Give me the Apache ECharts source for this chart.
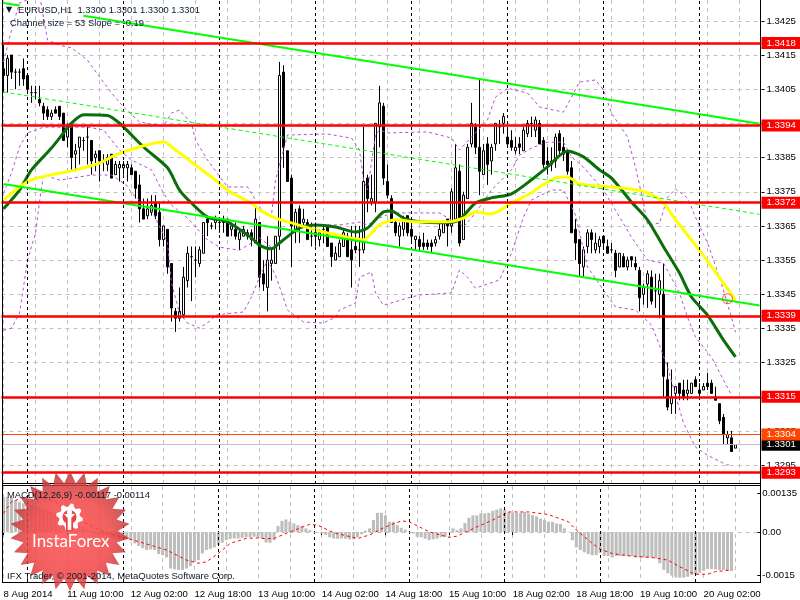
<!DOCTYPE html>
<html>
<head>
<meta charset="utf-8">
<style>html,body{margin:0;padding:0;background:#fff}#c{width:800px;height:600px}</style>
<script src="https://cdn.jsdelivr.net/npm/echarts@6/dist/echarts.min.js"></script>
</head>
<body>
<div id="c"></div>
<script>
// [open, close, low, high] per hourly bar
const candles = [
[1.3411,1.3409,1.3404,1.3418],[1.3409,1.3414,1.3404,1.3415],[1.3415,1.3410,1.3408,1.3415],[1.3410,1.3410,1.3405,1.3411],
[1.3410,1.3410,1.3406,1.3411],[1.3411,1.3408,1.3406,1.3414],[1.3409,1.3405,1.3404,1.3409],[1.3404,1.3404,1.3401,1.3406],
[1.3404,1.3404,1.3402,1.3406],[1.3402,1.3401,1.3400,1.3406],[1.3400,1.3398,1.3396,1.3401],[1.3399,1.3397,1.3396,1.3400],
[1.3397,1.3398,1.3396,1.3399],[1.3399,1.3398,1.3398,1.3400],[1.3400,1.3397,1.3396,1.3400],[1.3398,1.3390,1.3390,1.3398],
[1.3391,1.3394,1.3388,1.3395],[1.3395,1.3385,1.3381,1.3395],[1.3386,1.3387,1.3381,1.3389],[1.3388,1.3391,1.3383,1.3391],
[1.3390,1.3390,1.3387,1.3391],[1.3391,1.3391,1.3383,1.3394],[1.3390,1.3384,1.3380,1.3390],[1.3385,1.3386,1.3381,1.3387],
[1.3387,1.3384,1.3378,1.3387],[1.3384,1.3384,1.3381,1.3386],[1.3383,1.3385,1.3381,1.3386],[1.3386,1.3379,1.3379,1.3386],
[1.3380,1.3383,1.3380,1.3384],[1.3382,1.3383,1.3378,1.3384],[1.3382,1.3383,1.3380,1.3384],[1.3382,1.3383,1.3378,1.3384],
[1.3382,1.3380,1.3380,1.3383],[1.3381,1.3376,1.3373,1.3381],[1.3377,1.3370,1.3366,1.3380],[1.3370,1.3367,1.3367,1.3373],
[1.3368,1.3370,1.3367,1.3373],[1.3369,1.3371,1.3368,1.3374],[1.3372,1.3368,1.3367,1.3374],[1.3369,1.3361,1.3359,1.3372],
[1.3361,1.3365,1.3359,1.3365],[1.3364,1.3353,1.3351,1.3364],[1.3354,1.3341,1.3337,1.3354],[1.3340,1.3338,1.3334,1.3341],
[1.3338,1.3340,1.3337,1.3347],[1.3339,1.3350,1.3338,1.3353],[1.3349,1.3357,1.3347,1.3359],[1.3356,1.3356,1.3343,1.3359],
[1.3355,1.3355,1.3350,1.3359],[1.3354,1.3358,1.3353,1.3359],[1.3357,1.3366,1.3357,1.3366],[1.3367,1.3366,1.3362,1.3368],
[1.3365,1.3365,1.3364,1.3366],[1.3366,1.3367,1.3364,1.3368],[1.3366,1.3366,1.3363,1.3367],[1.3367,1.3366,1.3363,1.3368],
[1.3367,1.3362,1.3362,1.3367],[1.3364,1.3365,1.3362,1.3366],[1.3364,1.3362,1.3361,1.3366],[1.3361,1.3363,1.3358,1.3364],
[1.3362,1.3364,1.3362,1.3365],[1.3363,1.3362,1.3361,1.3364],[1.3363,1.3361,1.3359,1.3364],[1.3360,1.3367,1.3360,1.3371],
[1.3366,1.3350,1.3347,1.3366],[1.3351,1.3348,1.3346,1.3355],[1.3347,1.3355,1.3340,1.3362],[1.3354,1.3355,1.3349,1.3358],
[1.3354,1.3362,1.3354,1.3362],[1.3362,1.3409,1.3358,1.3413],[1.3410,1.3388,1.3382,1.3412],[1.3387,1.3378,1.3378,1.3387],
[1.3379,1.3365,1.3353,1.3380],[1.3364,1.3369,1.3360,1.3370],[1.3370,1.3365,1.3360,1.3371],[1.3366,1.3367,1.3365,1.3370],
[1.3366,1.3361,1.3361,1.3367],[1.3362,1.3362,1.3359,1.3366],[1.3363,1.3362,1.3359,1.3366],[1.3361,1.3363,1.3359,1.3364],
[1.3364,1.3364,1.3360,1.3365],[1.3365,1.3359,1.3359,1.3365],[1.3360,1.3356,1.3353,1.3360],[1.3355,1.3357,1.3355,1.3359],
[1.3356,1.3360,1.3356,1.3361],[1.3359,1.3363,1.3359,1.3364],[1.3362,1.3356,1.3356,1.3363],[1.3358,1.3355,1.3347,1.3365],
[1.3359,1.3358,1.3357,1.3365],[1.3358,1.3358,1.3353,1.3365],[1.3358,1.3378,1.3357,1.3394],[1.3379,1.3373,1.3369,1.3380],
[1.3372,1.3373,1.3371,1.3380],[1.3372,1.3395,1.3369,1.3395],[1.3394,1.3401,1.3388,1.3406],[1.3400,1.3379,1.3377,1.3401],
[1.3378,1.3374,1.3373,1.3383],[1.3373,1.3366,1.3366,1.3374],[1.3366,1.3363,1.3362,1.3367],[1.3362,1.3365,1.3359,1.3366],
[1.3364,1.3367,1.3362,1.3368],[1.3368,1.3363,1.3362,1.3368],[1.3364,1.3362,1.3360,1.3367],[1.3361,1.3362,1.3358,1.3362],
[1.3361,1.3359,1.3358,1.3362],[1.3360,1.3359,1.3358,1.3363],[1.3360,1.3359,1.3358,1.3361],[1.3360,1.3359,1.3357,1.3361],
[1.3360,1.3361,1.3359,1.3362],[1.3362,1.3364,1.3361,1.3366],[1.3363,1.3366,1.3363,1.3366],[1.3367,1.3365,1.3359,1.3367],
[1.3365,1.3375,1.3363,1.3376],[1.3367,1.3382,1.3366,1.3389],[1.3381,1.3360,1.3359,1.3383],[1.3361,1.3374,1.3361,1.3375],
[1.3373,1.3388,1.3373,1.3389],[1.3389,1.3395,1.3388,1.3401],[1.3394,1.3388,1.3386,1.3395],[1.3388,1.3381,1.3374,1.3408],
[1.3380,1.3387,1.3380,1.3389],[1.3389,1.3383,1.3377,1.3391],[1.3384,1.3388,1.3380,1.3389],[1.3389,1.3395,1.3387,1.3395],
[1.3394,1.3394,1.3389,1.3396],[1.3395,1.3397,1.3392,1.3398],[1.3391,1.3389,1.3388,1.3394],[1.3390,1.3388,1.3387,1.3393],
[1.3387,1.3388,1.3386,1.3391],[1.3389,1.3388,1.3386,1.3391],[1.3387,1.3393,1.3387,1.3394],[1.3392,1.3395,1.3391,1.3396],
[1.3395,1.3395,1.3391,1.3397],[1.3393,1.3396,1.3391,1.3397],[1.3395,1.3389,1.3389,1.3396],[1.3390,1.3383,1.3382,1.3391],
[1.3384,1.3383,1.3380,1.3388],[1.3383,1.3384,1.3381,1.3388],[1.3384,1.3391,1.3382,1.3392],[1.3392,1.3387,1.3386,1.3393],
[1.3388,1.3386,1.3384,1.3391],[1.3387,1.3381,1.3380,1.3387],[1.3382,1.3363,1.3363,1.3384],[1.3364,1.3360,1.3355,1.3367],
[1.3361,1.3354,1.3350,1.3361],[1.3353,1.3358,1.3350,1.3359],[1.3359,1.3363,1.3357,1.3364],[1.3363,1.3361,1.3357,1.3364],
[1.3358,1.3360,1.3357,1.3363],[1.3359,1.3361,1.3357,1.3362],[1.3362,1.3360,1.3358,1.3362],[1.3359,1.3357,1.3357,1.3361],
[1.3358,1.3358,1.3357,1.3360],[1.3357,1.3352,1.3350,1.3358],[1.3353,1.3357,1.3353,1.3357],[1.3356,1.3353,1.3353,1.3357],
[1.3353,1.3355,1.3352,1.3356],[1.3356,1.3355,1.3353,1.3356],[1.3354,1.3353,1.3352,1.3356],[1.3352,1.3344,1.3340,1.3353],
[1.3345,1.3347,1.3342,1.3348],[1.3348,1.3351,1.3341,1.3352],[1.3350,1.3343,1.3342,1.3352],[1.3346,1.3346,1.3341,1.3351],
[1.3345,1.3349,1.3338,1.3351],[1.3345,1.3321,1.3315,1.3354],[1.3320,1.3312,1.3311,1.3325],[1.3313,1.3315,1.3310,1.3323],
[1.3316,1.3318,1.3310,1.3318],[1.3319,1.3316,1.3314,1.3319],[1.3317,1.3315,1.3314,1.3320],[1.3316,1.3317,1.3314,1.3320],
[1.3316,1.3319,1.3316,1.3319],[1.3320,1.3318,1.3318,1.3321],[1.3317,1.3316,1.3315,1.3319],[1.3317,1.3318,1.3317,1.3319],
[1.3319,1.3318,1.3317,1.3322],[1.3319,1.3316,1.3316,1.3320],[1.3315,1.3314,1.3314,1.3318],[1.3313,1.3308,1.3307,1.3313],
[1.3309,1.3304,1.3301,1.3310],[1.3303,1.3304,1.3301,1.3305],[1.3303,1.3299,1.3299,1.3305],[1.3300,1.3301,1.3300,1.3301]
];
const macdHist = [
.00122,.00122,.0012,.0011,.00105,.001,.001,.00095,.0009,.00085,.0008,.00078,.0007,.00065,.0006,.0005,.00045,.00037,.0003,.00025,.00018,.0001,.00005,-.00005,-.00008,-.0001,-.00012,-.00017,-.0002,-.00023,-.00026,-.00025,-.00028,-.00039,-.00048,-.00056,-.00062,-.0006,-.00062,-.00076,-.0008,-.00088,-.00126,-.00129,-.00131,-.00131,-.00126,-.00118,-.00103,-.00097,-.00074,-.00062,-.00058,-.00053,-.00045,-.00037,-.00028,-.00024,-.00022,-.00022,-.0002,-.00018,-.00018,-.00016,-.00018,
-.00022,-.00036,-.00037,-.00028,.00021,.00039,.00044,.00036,.0003,.00024,.00022,.00013,.00007,.00001,-.00002,-.00005,-.0001,-.00018,-.00022,-.00023,-.00022,-.00023,-.00025,-.00025,-.00018,-.00007,.00005,.00013,.00042,.00067,.00067,.00059,.00036,.00036,.00024,.00015,.00009,.00001,-.00005,-.00016,-.00018,-.00023,-.00028,-.00025,-.00023,-.00018,-.00016,-.00002,.00013,.00007,.00013,.00032,.0005,.00058,.00058,.00065,.00065,.00067,.00074,.00078,.00082,.00078,.0007,.00067,.00067,.00067,.0007,
.00065,.00059,.00055,.00047,.00042,.00036,.00036,.0003,.00028,.00013,.00001,-.00028,-.00053,-.00062,-.0007,-.00076,-.0008,-.0008,-.00072,-.00083,-.00083,-.00088,-.00083,-.00083,-.00083,-.00083,-.00083,-.00088,-.00088,-.00088,-.00088,-.00088,-.00091,-.00108,-.00131,-.00143,-.00151,-.00157,-.00158,-.00158,-.00155,-.00149,-.00145,-.00141,-.00134,-.00128,-.00128,-.00129,-.00131,-.00131,-.00134,-.00135
];
// [bar index, value]
const macdSignal = [[0,.00065],[2,.00105],[7,.0013],[13,.00105],[16,.00076],[20,.00036],[25,.00001],[31,-.00022],[34,-.00033],[41,-.00062],[46,-.00097],[49,-.00108],[51,-.00103],[54,-.00074],[57,-.00039],[61,-.00022],[64,-.0002],[66,-.00023],[68,-.00022],[72,.00001],[77,.00027],[79,.00024],[83,-.00002],[89,-.00022],[92,-.0001],[96,.00018],[100,.00039],[102,.00036],[107,.00001],[112,-.00018],[114,-.00014],[119,.00018],[123,.00042],[127,.0007],[132,.0007],[137,.00061],[142,.00036],[144,.00007],[148,-.00039],[150,-.00059],[153,-.00074],[157,-.00082],[163,-.00088],[167,-.00097],[170,-.0012],[173,-.00141],[174,-.00146],[177,-.00146],[179,-.00137],[183,-.00131]];
const maFast = [[0,1.33700],[4,1.33755],[7,1.33814],[12,1.33878],[15,1.33922],[17,1.33951],[20,1.33975],[26,1.33973],[28,1.33960],[30,1.33940],[35,1.33881],[41,1.33820],[44,1.33755],[47,1.33717],[51,1.33676],[56,1.33662],[62,1.33615],[64,1.33594],[67,1.33583],[69,1.33600],[74,1.33644],[78,1.33653],[83,1.33647],[88,1.33632],[91,1.33644],[93,1.33668],[95,1.33691],[97,1.33694],[100,1.33673],[104,1.33662],[111,1.33659],[114,1.33668],[118,1.33717],[122,1.33732],[127,1.33744],[132,1.33785],[136,1.33823],[141,1.33869],[145,1.33852],[149,1.33814],[152,1.33790],[157,1.33720],[161,1.33668],[165,1.33589],[169,1.33512],[172,1.33442],[176,1.33389],[180,1.33316],[183,1.33267]];
const maSlow = [[0,1.33726],[4,1.33764],[7,1.33785],[13,1.33802],[17,1.33811],[24,1.33834],[28,1.33858],[34,1.33881],[40,1.33896],[43,1.33872],[47,1.33837],[52,1.33793],[57,1.33747],[62,1.33717],[64,1.33697],[68,1.33673],[72,1.33659],[78,1.33638],[83,1.33624],[90,1.33609],[92,1.33629],[94,1.33653],[98,1.33668],[103,1.33662],[111,1.33662],[115,1.33673],[118,1.33691],[122,1.33685],[127,1.33717],[132,1.33747],[134,1.33764],[138,1.33790],[141,1.33793],[144,1.33773],[152,1.33764],[157,1.33758],[161,1.33747],[165,1.33717],[168,1.33668],[173,1.33594],[178,1.33515],[183,1.33434]];
const bandTop = [[0,1.34130],[2,1.34223],[4,1.34302],[9,1.34326],[10,1.34261],[11,1.34194],[14,1.34179],[17,1.34171],[21,1.34135],[24,1.34086],[27,1.34039],[30,1.33998],[34,1.33954],[40,1.33942],[42,1.33980],[44,1.33989],[47,1.33951],[48,1.33901],[51,1.33843],[56,1.33764],[61,1.33764],[63,1.33726],[65,1.33688],[67,1.33682],[68,1.33784],[71,1.33916],[81,1.33919],[87,1.33907],[89,1.33872],[90,1.33784],[91,1.33755],[93,1.33916],[94,1.33931],[96,1.33922],[106,1.33925],[112,1.33907],[114,1.33872],[117,1.33910],[121,1.33960],[123,1.34027],[126,1.34053],[131,1.34039],[134,1.33998],[140,1.33983],[142,1.34027],[144,1.34071],[148,1.34077],[150,1.34048],[152,1.33980],[156,1.33910],[158,1.33822],[160,1.33717],[161,1.33653],[164,1.33658],[166,1.33734],[168,1.33758],[171,1.33732],[173,1.33676],[176,1.33600],[179,1.33500],[182,1.33383],[183,1.33339]];
const bandMid = [[0,1.33746],[2,1.33805],[4,1.33881],[6,1.33922],[10,1.33939],[15,1.33939],[21,1.33939],[25,1.33931],[29,1.33872],[32,1.33843],[37,1.33814],[40,1.33746],[42,1.33711],[46,1.33673],[51,1.33609],[54,1.33588],[59,1.33579],[62,1.33600],[64,1.33615],[67,1.33588],[70,1.33609],[74,1.33644],[79,1.33653],[84,1.33653],[89,1.33661],[91,1.33653],[94,1.33673],[97,1.33688],[101,1.33688],[109,1.33688],[112,1.33667],[114,1.33658],[115,1.33647],[118,1.33688],[122,1.33755],[127,1.33814],[129,1.33857],[132,1.33878],[136,1.33895],[140,1.33895],[142,1.33852],[145,1.33822],[150,1.33755],[157,1.33617],[161,1.33550],[165,1.33541],[169,1.33454],[171,1.33383],[173,1.33325],[177,1.33266],[182,1.33155]];
const bandLow = [[0,1.33345],[2,1.33351],[4,1.33395],[5,1.33471],[6,1.33550],[8,1.33629],[9,1.33720],[10,1.33799],[14,1.33784],[22,1.33799],[27,1.33799],[31,1.33767],[32,1.33746],[37,1.33696],[38,1.33673],[41,1.33600],[42,1.33483],[44,1.33395],[46,1.33366],[49,1.33351],[52,1.33375],[53,1.33389],[57,1.33395],[60,1.33398],[62,1.33442],[64,1.33500],[66,1.33550],[68,1.33506],[71,1.33404],[75,1.33369],[80,1.33366],[83,1.33383],[84,1.33404],[88,1.33424],[89,1.33500],[92,1.33515],[93,1.33454],[95,1.33418],[101,1.33439],[104,1.33448],[112,1.33454],[114,1.33521],[116,1.33500],[118,1.33468],[124,1.33492],[127,1.33571],[130,1.33676],[132,1.33726],[137,1.33755],[140,1.33755],[143,1.33682],[146,1.33530],[150,1.33462],[153,1.33413],[158,1.33404],[162,1.33360],[164,1.33301],[166,1.33237],[170,1.33073],[173,1.33003],[176,1.32979],[181,1.32950],[182,1.32956]];
const channelUpper = [[0,1.34302],[4,1.34295],[5,'-'],[20,1.34265],[189,1.33949]];
const channelMiddle = [[0,1.34042],[189,1.33684]];
const channelLower = [[0,1.33773],[189,1.33417]];
const redLevels = [1.34185,1.33944,1.33718,1.33387,1.33150,1.32928];
const redLevelText = ['1.3418','1.3394','1.3372','1.3339','1.3315','1.3293'];
const askLevel = 1.3304, bidLevel = 1.3301;
const alertPoint = [[181,1.33437]];
const priceTicks = [1.3295,1.3305,1.3315,1.3325,1.3335,1.3345,1.3355,1.3365,1.3375,1.3385,1.3395,1.3405,1.3415,1.3425];
const macdTicks = [-0.0015,0,0.00135];
const macdTickText = {'-0.0015':'-0.0015','0':'0.00','0.00135':'0.00135'};
const timeLabels = ['8 Aug 2014','11 Aug 10:00','12 Aug 02:00','12 Aug 18:00','13 Aug 10:00','14 Aug 02:00','14 Aug 18:00','15 Aug 10:00','18 Aug 02:00','18 Aug 18:00','19 Aug 10:00','20 Aug 02:00'];
const daySeparators = [6,30,54,78,102,126,150,174];
const BAR_SLOTS = 190;
const categories = Array.from({length:BAR_SLOTS},(_,i)=>'b'+i);
const FONT = '"Liberation Sans"';
const TXT = {fontFamily:FONT,fontSize:9.6,color:'#000'};

const dayLines = {silent:true,symbol:'none',label:{show:false},
  lineStyle:{color:'#000',type:[3,3],width:1},data:daySeparators.map(i=>({xAxis:i}))};
const gridDash = {show:true,alignWithLabel:true,interval:(i)=>i%8===0,lineStyle:{color:'#c0c0c0',type:[4,4],width:1}};
const boxLabel = (bg,text)=>({show:true,position:'end',distance:0,backgroundColor:bg,color:'#fff',
  fontFamily:FONT,fontSize:9.6,padding:[1,5,1,5],formatter:()=>text});
const pline = (name,data)=>({name,type:'line',data,z:3,symbol:'none',silent:true,
  lineStyle:{color:'#b24fd0',width:1,type:[3,3]}});

const option = {
  animation:false,
  backgroundColor:'#fff',
  title:{text:'EURUSD,H1  1.3300 1.3301 1.3300 1.3301',left:18,top:6,padding:0,
    textStyle:{fontFamily:FONT,fontSize:9.4,fontWeight:'normal',color:'#0a1a2a'}},
  grid:[{left:1.5,top:0,width:760,height:484},{left:1.5,top:486,width:760,height:96}],
  xAxis:[
    {type:'category',gridIndex:0,data:categories,axisLine:{show:false},axisTick:{show:false},axisLabel:{show:false},splitLine:gridDash},
    {type:'category',gridIndex:1,data:categories,axisLine:{show:false},
      axisTick:{show:true,alignWithLabel:true,interval:(i)=>i%16===0,length:3,lineStyle:{color:'#000'}},
      axisLabel:{...TXT,interval:(i)=>i%16===0,align:'left',margin:7,formatter:(v,i)=>timeLabels[i/16]||''},
      splitLine:gridDash}
  ],
  yAxis:[
    {type:'value',gridIndex:0,position:'right',min:1.32895,max:1.34311,
      axisLine:{show:false},
      axisTick:{show:true,length:3,customValues:priceTicks,lineStyle:{color:'#000'}},
      axisLabel:{...TXT,margin:5,customValues:priceTicks,formatter:(v)=>v.toFixed(4)},
      splitLine:{show:true,lineStyle:{color:'#c0c0c0',type:[4,4],width:1}}},
    {type:'value',gridIndex:1,position:'right',min:-0.00173,max:0.0016,
      axisLine:{show:false},
      axisTick:{show:true,length:3,customValues:macdTicks,lineStyle:{color:'#000'}},
      axisLabel:{...TXT,margin:5,customValues:macdTicks,formatter:(v)=>macdTickText[String(v)]},
      splitLine:{show:false}}
  ],
  series:[
    {name:'EURUSD',type:'candlestick',data:candles,z:2,barWidth:3,silent:true,
      itemStyle:{color:'#fff',color0:'#000',borderColor:'#000',borderColor0:'#000',borderWidth:1},
      markLine:dayLines},
    pline('Bands upper',bandTop),pline('Bands middle',bandMid),pline('Bands lower',bandLow),
    {name:'MA fast',type:'line',data:maFast,z:4,symbol:'none',silent:true,smooth:0.25,lineStyle:{color:'#0a6e0a',width:3}},
    {name:'MA slow',type:'line',data:maSlow,z:4,symbol:'none',silent:true,smooth:0.25,lineStyle:{color:'#ffff00',width:3}},
    {name:'Channel upper',type:'line',data:channelUpper,z:5,symbol:'none',silent:true,connectNulls:false,lineStyle:{color:'#00ff00',width:2}},
    {name:'Channel lower',type:'line',data:channelLower,z:5,symbol:'none',silent:true,lineStyle:{color:'#00ff00',width:2}},
    {name:'Channel middle',type:'line',data:channelMiddle,z:5,symbol:'none',silent:true,lineStyle:{color:'#00ff00',width:1,type:[4,3]}},
    {name:'Levels',type:'line',data:[],z:6,silent:true,
      markLine:{silent:true,symbol:'none',precision:5,z:6,
        data:[
          ...redLevels.map((v,k)=>({yAxis:v,lineStyle:{color:'#ff0000',width:2.5,type:'solid'},label:boxLabel('#ff0000',redLevelText[k])})),
          {yAxis:bidLevel,lineStyle:{color:'#c0c0c0',width:1,type:'solid'},label:boxLabel('#000','1.3301')},
          {yAxis:askLevel,lineStyle:{color:'#ff4500',width:1,type:'solid'},label:boxLabel('#ff4500','1.3304')}
        ]}},
    {name:'Alert',type:'scatter',data:alertPoint,z:7,symbol:'circle',symbolSize:10,silent:true,
      itemStyle:{color:'rgba(255,0,0,0.05)',borderColor:'#ff3030',borderWidth:1}},
    {name:'MACD',type:'bar',xAxisIndex:1,yAxisIndex:1,data:macdHist,barWidth:3,z:2,silent:true,itemStyle:{color:'#bdbdbd'},
      markLine:dayLines},
    {name:'Signal',type:'line',xAxisIndex:1,yAxisIndex:1,data:macdSignal,z:4,symbol:'none',silent:true,lineStyle:{color:'#ff0000',width:1,type:[3,3]}},
    {name:'Zero',type:'line',xAxisIndex:1,yAxisIndex:1,data:[],z:1,silent:true,
      markLine:{silent:true,symbol:'none',label:{show:false},lineStyle:{color:'#c0c0c0',type:[4,4],width:1},data:[{yAxis:0}]}}
  ],
  graphic:[]
};

// Page furniture: frame, captions and the InstaForex watermark
const frame = [[2.5,0,2.5,583],[760.5,0,760.5,583],[2.5,483.5,760.5,483.5],[2.5,485.5,760.5,485.5],[2.5,582.5,760.5,582.5]];
frame.forEach(s=>option.graphic.push({type:'line',silent:true,z:40,shape:{x1:s[0],y1:s[1],x2:s[2],y2:s[3]},style:{stroke:'#000',lineWidth:1}}));
const star=[];const cx=70,cy=531,N=26;
for(let k=0;k<N*2;k++){const r=k%2?48:60,a=Math.PI*k/N-Math.PI/2;star.push([cx+r*Math.cos(a),cy+r*Math.sin(a)]);}
option.graphic.push({type:'polygon',silent:true,z:50,shape:{points:star},
  style:{opacity:0.85,fill:{type:'radial',x:0.5,y:0.55,r:0.55,colorStops:[{offset:0,color:'#ff4c4c'},{offset:0.6,color:'#f04444'},{offset:1,color:'#b83838'}]}}});
const gear=[];const gx=69.5,gy=517;
for(let k=0;k<32;k++){const r=(k%4<2)?13.5:10.5,a=(k+0.5)*Math.PI/16;gear.push([gx+r*Math.cos(a),gy+r*Math.sin(a)]);}
option.graphic.push({type:'polygon',silent:true,z:51,shape:{points:gear},style:{fill:'#fff'}});
option.graphic.push({type:'circle',silent:true,z:52,shape:{cx:gx,cy:gy,r:7},style:{fill:'#e84444'}});
option.graphic.push({type:'rect',silent:true,z:52,shape:{x:gx-3.5,y:gy+5,width:7,height:9},style:{fill:'#e84444'}});
option.graphic.push({type:'circle',silent:true,z:53,shape:{cx:gx,cy:gy-5,r:2.6},style:{fill:'#fff'}});
option.graphic.push({type:'polygon',silent:true,z:53,shape:{points:[[gx-5.5,gy-3],[gx+5.5,gy-3],[gx+1.8,gy+1],[gx+1.8,gy+13],[gx-1.8,gy+13],[gx-1.8,gy+1]]},style:{fill:'#fff'}});
option.graphic.push({type:'text',silent:true,z:55,x:32,y:542,style:{text:'InstaForex',fill:'#fff',font:'17px Lato',verticalAlign:'middle'}});
const caps=[
  {t:'▼',x:6,y:6,f:'8px "DejaVu Sans"'},
  {t:'Channel size = 53 Slope = -0.19',x:10,y:19,f:'9.4px '+FONT},
  {t:'MACD(12,26,9) -0.00117 -0.00114',x:7,y:491,f:'9.4px '+FONT},
  {t:'IFX Trader, © 2001-2014, MetaQuotes Software Corp.',x:7,y:571,f:'9.5px '+FONT}
];
caps.forEach(c=>option.graphic.push({type:'text',silent:true,z:60,x:c.x,y:c.y,style:{text:c.t,fill:'#0a1a2a',font:c.f}}));

echarts.init(document.getElementById('c'),null,{renderer:'canvas'}).setOption(option);
</script>
</body>
</html>
